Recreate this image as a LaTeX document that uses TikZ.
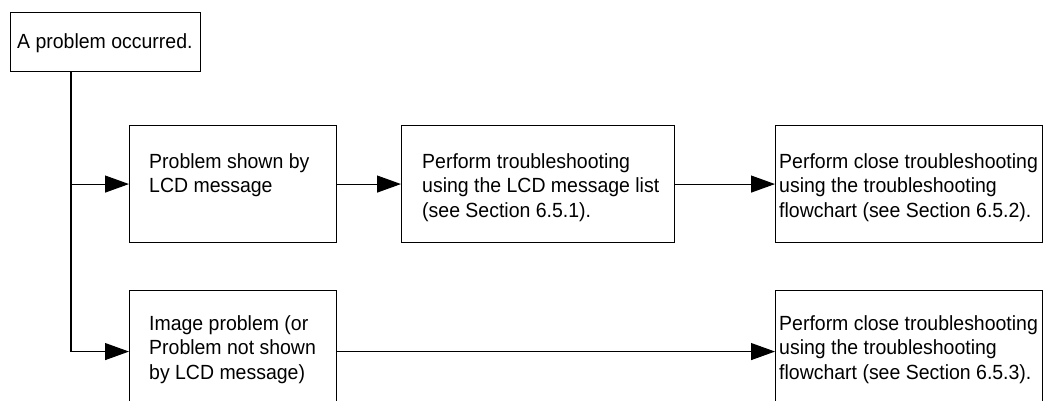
\documentclass[tikz,border=0pt]{standalone}
\usepackage{fontspec}
\setmainfont[FakeStretch=0.95]{Liberation Sans}
\usetikzlibrary{arrows.meta,calc}
\begin{document}
\begin{tikzpicture}[x=1pt,y=-1pt,
  box/.style={draw,line width=1.1pt,inner sep=0pt,anchor=north west},
  txt/.style={inner sep=0pt,align=left,anchor=base west,font=\fontsize{20.5}{24.5}\selectfont},
  arr/.style={line width=1.1pt,-{Triangle[length=24pt,width=17pt]}},
  ln/.style={line width=1.1pt}]
\clip (0,0) rectangle (1047,400);
\fill[white] (0,0) rectangle (1047,400);
% boxes
\node[box,minimum width=190pt,minimum height=59pt] (tb) at (10,12) {};
\node[box,minimum width=207pt,minimum height=117pt] (b2) at (129,125) {};
\node[box,minimum width=273pt,minimum height=117pt] (b3) at (401,125) {};
\node[box,minimum width=267pt,minimum height=117pt] (b4) at (775,125) {};
\node[box,minimum width=207pt,minimum height=122pt] (b5) at (129,290) {};
\node[box,minimum width=267pt,minimum height=122pt] (b6) at (775,290) {};
% texts (anchor = baseline of last line)
\node[txt] (t1) at (17,48) {A problem occurred.};
\node[txt] (t2) at (149,192.5) {Problem shown by\\LCD message};
\node[txt] (t3) at (422,217) {Perform troubleshooting\\using the LCD message list\\(see Section 6.5.1).};
\node[txt] (t4) at (779,217) {Perform close troubleshooting\\using the troubleshooting\\flowchart (see Section 6.5.2).};
\node[txt] (t5) at (149,379) {Image problem (or\\Problem not shown\\by LCD message)};
\node[txt] (t6) at (779,379) {Perform close troubleshooting\\using the troubleshooting\\flowchart (see Section 6.5.3).};
% connectors
\coordinate (trunk) at ($(tb.south west)+(61,0)$);
\draw[arr] (trunk) |- (b5.west);
\draw[arr] (trunk |- b2.west) -- (b2.west);
\draw[arr] (b2.east) -- (b3.west);
\draw[arr] (b3.east) -- (b4.west);
\draw[arr] (b5.east) -- (b6.west);
\end{tikzpicture}
\end{document}
